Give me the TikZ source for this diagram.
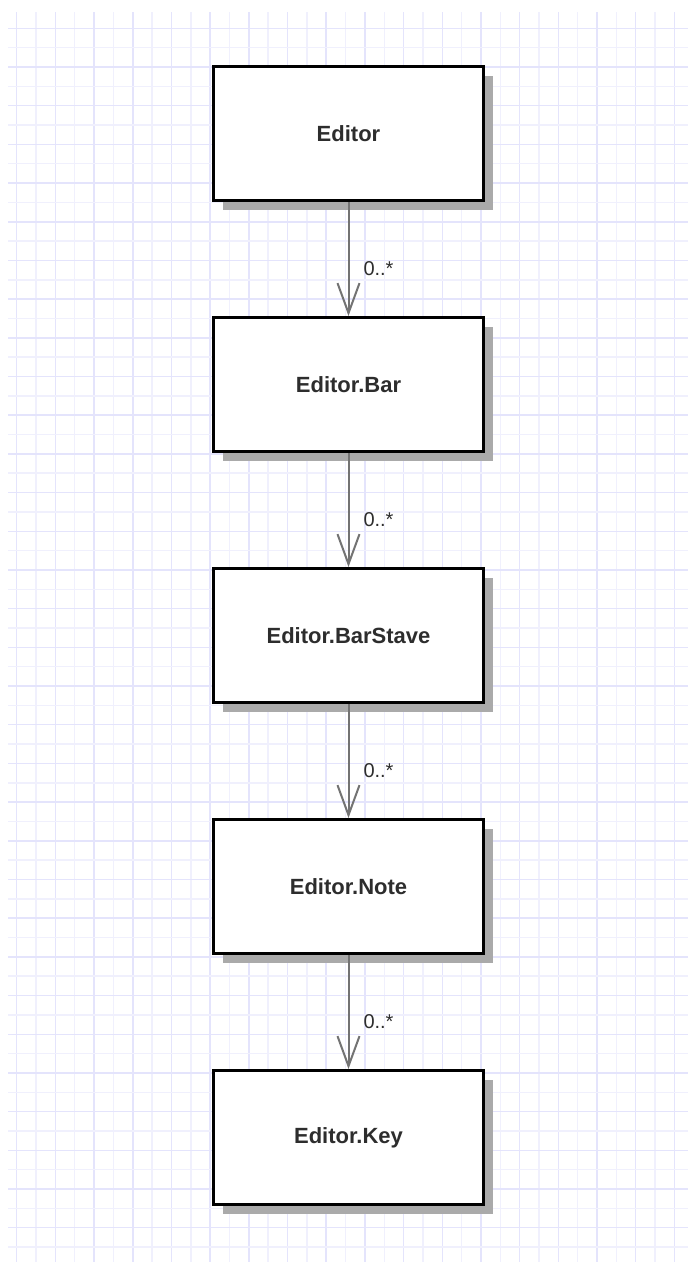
\documentclass[tikz,border=0pt]{standalone}
\usepackage{fontspec}
\setmainfont{Liberation Sans}
\usetikzlibrary{positioning,arrows.meta,shadows}

\definecolor{gridline}{RGB}{228,228,252}
\definecolor{gridfaint}{RGB}{240,240,253}
\definecolor{shade}{RGB}{170,170,170}
\definecolor{wire}{RGB}{115,115,115}
\definecolor{ink}{RGB}{45,45,45}

\begin{document}
\begin{tikzpicture}[
    x=1pt, y=1pt,
    node distance=114pt,
    cls/.style={draw=black, line width=3pt, fill=white, minimum width=270pt, minimum height=134pt,
        font=\fontsize{22}{26}\selectfont\bfseries, text=ink,
        drop shadow={shadow xshift=9pt, shadow yshift=-9pt, opacity=1, fill=shade}},
    assoc/.style={-{Straight Barb[length=30pt, width=22pt, line width=2pt]}, draw=wire, line width=2pt},
    mult/.style={font=\fontsize{20}{24}\selectfont, text=ink, inner sep=0pt, anchor=base west}
]
\useasboundingbox[fill=white] (0,0) rectangle (688,-1262);

% background grid
\foreach \k in {0,...,34} {
    \pgfmathsetmacro{\gx}{16.7+\k*19.345}
    \ifodd\k \def\gc{gridfaint}\else \def\gc{gridline}\fi
    \draw[\gc, line width=1.5pt] (\gx,-12) -- (\gx,-1262);
}
\foreach \k in {0,...,63} {
    \pgfmathsetmacro{\gy}{28.3+\k*19.345}
    \ifodd\k \def\gc{gridfaint}\else \def\gc{gridline}\fi
    \draw[\gc, line width=1.5pt] (8,-\gy) -- (688,-\gy);
}

\node[cls] (editor) at (348.5,-133.5) {Editor};
\node[cls, below=of editor] (bar) {Editor.Bar};
\node[cls, below=of bar] (stave) {Editor.BarStave};
\node[cls, below=of stave] (note) {Editor.Note};
\node[cls, below=of note] (key) {Editor.Key};

\draw[assoc] (editor) -- node[mult, pos=1, xshift=14pt, yshift=41pt] {0..*} (bar);
\draw[assoc] (bar) -- node[mult, pos=1, xshift=14pt, yshift=41pt] {0..*} (stave);
\draw[assoc] (stave) -- node[mult, pos=1, xshift=14pt, yshift=41pt] {0..*} (note);
\draw[assoc] (note) -- node[mult, pos=1, xshift=14pt, yshift=41pt] {0..*} (key);
\end{tikzpicture}
\end{document}
